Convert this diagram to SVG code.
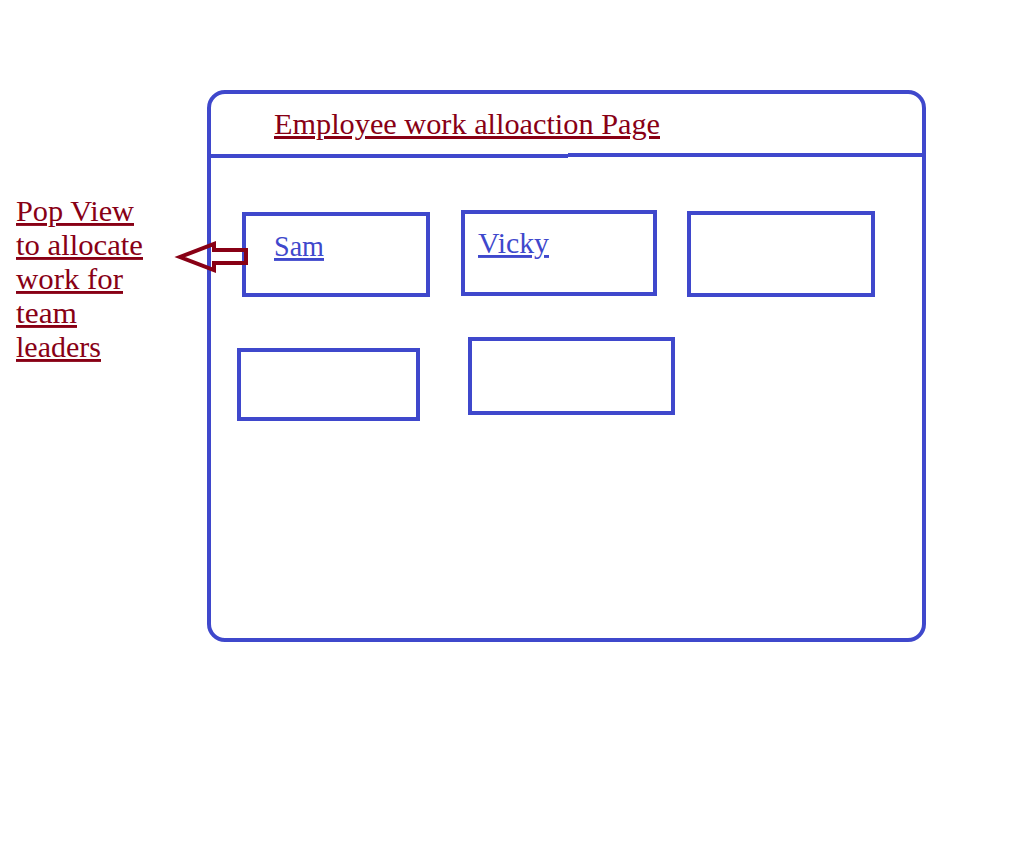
<svg xmlns="http://www.w3.org/2000/svg" width="1018" height="865" viewBox="0 0 1018 865">
<style>
.frame{fill:none;stroke:#3F48CC;stroke-width:4}
.box{fill:none;stroke:#3F48CC;stroke-width:4}
.red{font-family:"Liberation Serif","DejaVu Serif",serif;fill:#880015;text-decoration:underline}
.blue{font-family:"Liberation Serif","DejaVu Serif",serif;fill:#3F48CC;text-decoration:underline}
.arrow{fill:none;stroke:#880015;stroke-width:4;stroke-linejoin:miter}
</style>
<rect width="1018" height="865" fill="#ffffff"/>
<g id="page">
<rect class="frame" x="209" y="92" width="715" height="548" rx="16" ry="16"/>
<path class="frame" d="M210 156 H568 M568 155 H923"/>
<text class="red" x="274" y="134" font-size="30" textLength="386" lengthAdjust="spacingAndGlyphs">Employee work alloaction Page</text>
</g>
<g id="sam">
<rect class="box" x="244" y="214" width="184" height="81"/>
<text class="blue" x="274" y="256" font-size="29" textLength="50" lengthAdjust="spacingAndGlyphs">Sam</text>
</g>
<g id="vicky">
<rect class="box" x="463" y="212" width="192" height="82"/>
<text class="blue" x="478" y="253" font-size="29" textLength="71" lengthAdjust="spacingAndGlyphs">Vicky</text>
</g>
<g id="box3">
<rect class="box" x="689" y="213" width="184" height="82"/>
</g>
<g id="box4">
<rect class="box" x="239" y="350" width="179" height="69"/>
</g>
<g id="box5">
<rect class="box" x="470" y="339" width="203" height="74"/>
</g>
<g id="note">
<text class="red" font-size="29" x="16" y="221" textLength="118" lengthAdjust="spacingAndGlyphs">Pop View</text>
<text class="red" font-size="29" x="16" y="255" textLength="127" lengthAdjust="spacingAndGlyphs">to allocate</text>
<text class="red" font-size="29" x="16" y="289" textLength="107" lengthAdjust="spacingAndGlyphs">work for</text>
<text class="red" font-size="29" x="16" y="323" textLength="61" lengthAdjust="spacingAndGlyphs">team</text>
<text class="red" font-size="29" x="16" y="357" textLength="85" lengthAdjust="spacingAndGlyphs">leaders</text>
</g>
<g id="connectors">
<polygon class="arrow" points="246,250 214,250 214,244 180,257 214,270 214,263 246,263"/>
</g>
</svg>
